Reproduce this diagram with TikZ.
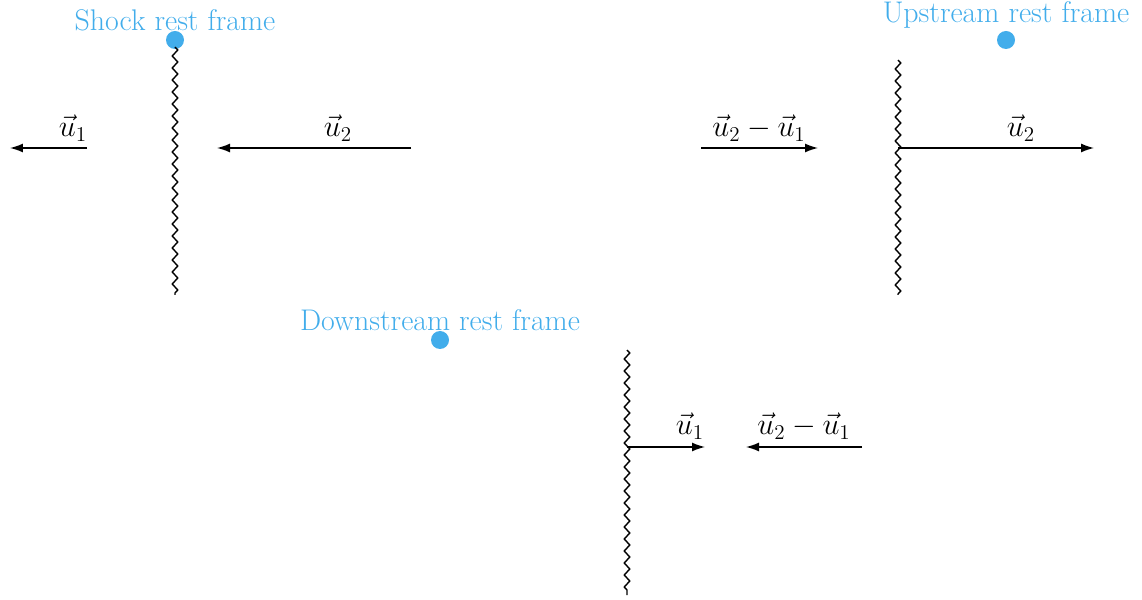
\documentclass[tikz,border=0pt]{standalone}
\usetikzlibrary{arrows.meta,decorations.pathmorphing}
\definecolor{framecolor}{RGB}{66, 173, 235}

\tikzset{
    frametext/.style={text=framecolor, font=\fontsize{17}{19}\selectfont},
    framedot/.style={circle, fill=framecolor, inner sep=0pt, minimum size=0.36cm},
    shockfront/.style={thick, decorate, decoration={zigzag, amplitude=0.055cm, segment length=0.24cm}},
    velocity/.style={thick, -{Latex[length=0.26cm, width=0.18cm]}},
    vlabel/.style={font=\fontsize{17}{19}\selectfont}
}

\begin{document}
\begin{tikzpicture}
\useasboundingbox (0,0) rectangle (22.84,11.98);

% shock rest frame
\node[framedot] (shockdot) at (3.5,11.18) {};
\node[frametext] (shocktext) at (3.5,11.58) {Shock rest frame};
\coordinate (shocktop) at (3.5,11.04);
\coordinate (shockbot) at (3.5,6.08);
\draw[shockfront] (shocktop) -- (shockbot);
\coordinate (sa1) at (1.74,9.02);
\coordinate (sb1) at (0.2,9.02);
\coordinate (sa2) at (8.22,9.02);
\coordinate (sb2) at (4.34,9.02);
\draw[velocity] (sa1) -- (sb1);
\draw[velocity] (sa2) -- (sb2);
\node[vlabel] (su1) at (1.46,9.42) {$\vec{u}_1$};
\node[vlabel] (su2) at (6.76,9.42) {$\vec{u}_2$};

% upstream rest frame
\node[framedot] (updot) at (20.12,11.18) {};
\node[frametext] (uptext) at (20.12,11.68) {Upstream rest frame};
\coordinate (uptop) at (17.96,10.78);
\coordinate (upbot) at (17.96,6.08);
\draw[shockfront] (uptop) -- (upbot);
\coordinate (ua1) at (14.02,9.02);
\coordinate (ub1) at (16.36,9.02);
\coordinate (ua2) at (17.96,9.02);
\coordinate (ub2) at (21.88,9.02);
\draw[velocity] (ua1) -- (ub1);
\draw[velocity] (ua2) -- (ub2);
\node[vlabel] (uu21) at (15.18,9.42) {$\vec{u}_2-\vec{u}_1$};
\node[vlabel] (uu2) at (20.42,9.42) {$\vec{u}_2$};

% downstream rest frame
\node[framedot] (downdot) at (8.8,5.18) {};
\node[frametext] (downtext) at (8.8,5.58) {Downstream rest frame};
\coordinate (downtop) at (12.54,4.98);
\coordinate (downbot) at (12.54,0.08);
\draw[shockfront] (downtop) -- (downbot);
\coordinate (da1) at (12.54,3.04);
\coordinate (db1) at (14.1,3.04);
\coordinate (da2) at (17.24,3.04);
\coordinate (db2) at (14.92,3.04);
\draw[velocity] (da1) -- (db1);
\draw[velocity] (da2) -- (db2);
\node[vlabel] (du1) at (13.8,3.46) {$\vec{u}_1$};
\node[vlabel] (du21) at (16.08,3.46) {$\vec{u}_2-\vec{u}_1$};
\end{tikzpicture}
\end{document}
